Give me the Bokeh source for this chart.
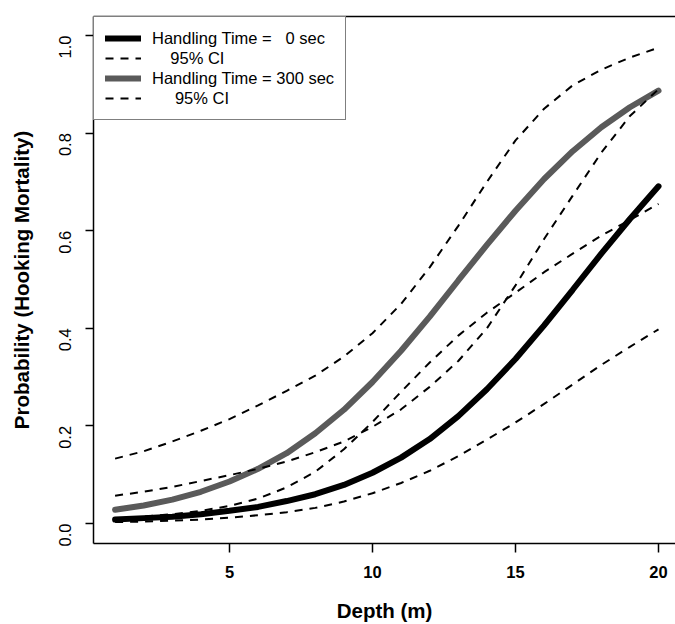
import math
from bokeh.plotting import figure
from bokeh.models import (Range1d, LinearAxis, FixedTicker, Legend, LegendItem)
from bokeh.embed import file_html
from bokeh.resources import INLINE

# ---- data ----
depth = [1, 2, 3, 4, 5, 6, 7, 8, 9, 10, 11, 12, 13, 14, 15, 16, 17, 18, 19, 20]
ht0_est = [0.008, 0.011, 0.014, 0.019, 0.026, 0.034, 0.046, 0.060, 0.079, 0.104,
           0.135, 0.173, 0.220, 0.275, 0.337, 0.406, 0.479, 0.553, 0.624, 0.691]
ht0_lo = [0.003, 0.004, 0.006, 0.008, 0.012, 0.017, 0.023, 0.032, 0.045, 0.062,
          0.083, 0.108, 0.138, 0.172, 0.207, 0.245, 0.285, 0.325, 0.362, 0.398]
ht0_hi = [0.057, 0.065, 0.075, 0.087, 0.099, 0.112, 0.127, 0.146, 0.168, 0.198,
          0.234, 0.280, 0.333, 0.400, 0.488, 0.583, 0.672, 0.760, 0.835, 0.890]
ht300_est = [0.028, 0.037, 0.049, 0.065, 0.086, 0.112, 0.144, 0.185, 0.233, 0.290,
             0.354, 0.424, 0.498, 0.571, 0.641, 0.706, 0.763, 0.812, 0.853, 0.887]
ht300_lo = [0.010, 0.014, 0.019, 0.026, 0.036, 0.051, 0.074, 0.106, 0.152, 0.208,
            0.270, 0.330, 0.385, 0.432, 0.473, 0.515, 0.553, 0.590, 0.622, 0.655]
ht300_hi = [0.133, 0.148, 0.168, 0.190, 0.214, 0.242, 0.272, 0.303, 0.342, 0.390,
            0.450, 0.525, 0.610, 0.700, 0.785, 0.850, 0.898, 0.930, 0.955, 0.975]

x_ticks = [5, 10, 15, 20]
y_ticks = [0.0, 0.2, 0.4, 0.6, 0.8, 1.0]
y_tick_labels = ["0.0", "0.2", "0.4", "0.6", "0.8", "1.0"]

NB = "\u00a0"
label_ht0 = "Handling Time =" + NB * 3 + "0 sec"
label_ci_a = NB * 4 + "95% CI"
label_ht300 = "Handling Time = 300 sec"
label_ci_b = NB * 5 + "95% CI"

FONT = "Liberation Sans"
GRAY = "#5a5a5a"

p = figure(width=675, height=624, output_backend="svg", toolbar_location=None,
           x_range=Range1d(0.245, 20.594), y_range=Range1d(-0.041, 1.039),
           min_border_left=93, min_border_right=0, min_border_top=16,
           min_border_bottom=81)
p.outline_line_color = None
p.grid.visible = False
p.background_fill_color = "white"
p.border_fill_color = "white"

# axes
xa = p.xaxis[0]
xa.ticker = FixedTicker(ticks=x_ticks)
xa.minor_tick_line_color = None
xa.major_tick_in = 0
xa.major_tick_out = 9
xa.major_tick_line_width = 1.5
xa.axis_line_width = 1.5
xa.major_label_standoff = 13
xa.major_label_text_font = FONT
xa.major_label_text_font_size = "16.5px"
xa.major_label_text_font_style = "bold"
xa.major_label_text_color = "black"
xa.axis_label = "Depth (m)"
xa.axis_label_text_font = FONT
xa.axis_label_text_font_size = "20.5px"
xa.axis_label_text_font_style = "bold"
xa.axis_label_text_color = "black"
xa.axis_label_standoff = 18

ya = p.yaxis[0]
ya.ticker = FixedTicker(ticks=y_ticks)
ya.major_label_overrides = {t: s for t, s in zip(y_ticks, y_tick_labels)}
ya.minor_tick_line_color = None
ya.major_tick_in = 0
ya.major_tick_out = 8
ya.major_tick_line_width = 1.5
ya.axis_line_width = 1.5
ya.major_label_orientation = math.pi / 2
ya.major_label_standoff = 20
ya.major_label_text_font = FONT
ya.major_label_text_font_size = "16.5px"
ya.major_label_text_color = "black"
ya.axis_label = "Probability (Hooking Mortality)"
ya.axis_label_text_font = FONT
ya.axis_label_text_font_size = "20.5px"
ya.axis_label_text_font_style = "bold"
ya.axis_label_text_color = "black"
ya.axis_label_standoff = 18

top = LinearAxis(ticker=FixedTicker(ticks=[]), major_tick_out=0, major_tick_in=0,
                 minor_tick_out=0, minor_tick_in=0, major_label_standoff=0,
                 major_label_text_font_size="0px", axis_line_width=1.5)
p.add_layout(top, "above")

# curves
r0 = p.line(depth, ht0_est, line_color="black", line_width=6, line_cap="round")
r300 = p.line(depth, ht300_est, line_color=GRAY, line_width=6, line_cap="round")
dash = "8 7"
r0lo = p.line(depth, ht0_lo, line_color="black", line_width=2, line_dash=dash)
r0hi = p.line(depth, ht0_hi, line_color="black", line_width=2, line_dash=dash)
r300lo = p.line(depth, ht300_lo, line_color="black", line_width=2, line_dash=dash)
r300hi = p.line(depth, ht300_hi, line_color="black", line_width=2, line_dash=dash)

legend = Legend(items=[
    LegendItem(label=label_ht0, renderers=[r0]),
    LegendItem(label=label_ci_a, renderers=[r0lo]),
    LegendItem(label=label_ht300, renderers=[r300]),
    LegendItem(label=label_ci_b, renderers=[r300lo]),
], location="top_left")
legend.margin = 0
legend.padding = 11
legend.spacing = 0
legend.label_height = 20
legend.glyph_height = 20
legend.glyph_width = 36
legend.label_standoff = 11
legend.label_text_font = FONT
legend.label_text_font_size = "16.5px"
legend.label_text_color = "black"
legend.border_line_color = "black"
legend.border_line_width = 1.5
legend.background_fill_color = "white"
legend.background_fill_alpha = 1.0
p.add_layout(legend)

open("out.html", "w").write(file_html(p, INLINE))
